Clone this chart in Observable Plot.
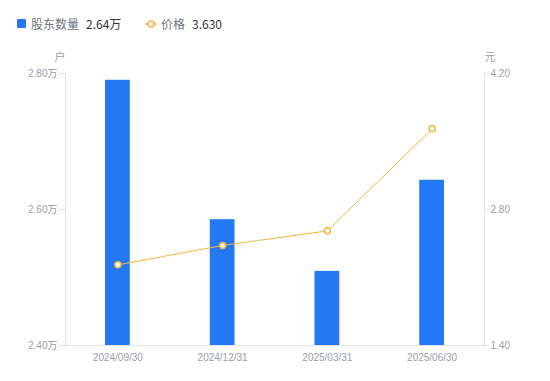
<!DOCTYPE html>
<html><head><meta charset="utf-8">
<script src="https://cdn.jsdelivr.net/npm/d3@7"></script>
<script src="https://cdn.jsdelivr.net/npm/@observablehq/plot@0.6"></script>
<style>
body{margin:0;background:#fff;font-family:"Noto Sans CJK SC","Noto Sans",sans-serif;}
#legend{height:45px;position:relative;font-size:12px;}
.item{position:absolute;top:15px;display:flex;align-items:center;white-space:nowrap;}
.name{color:#707380;}
.val{color:#333;margin-left:7px;}
</style></head><body>
<div id="legend"></div>
<div id="chart"></div>
<script>
const dates = ["2024/09/30","2024/12/31","2025/03/31","2025/06/30"];
const holders = [2.79, 2.585, 2.509, 2.643]; // 万户
const prices = [2.23, 2.43, 2.58, 3.63];     // 元
const leftTicks = [2.40, 2.60, 2.80];
const rightTicks = [1.40, 2.80, 4.20];
const seriesNames = ["股东数量", "价格"];
const legendValues = ["2.64万", "3.630"];
const units = ["户", "元"];

const blue = "#2477f5", orange = "#f7b53d", grey = "#9a9cab", axisCol = "#e3e4e8";
const yMin = leftTicks[0], yMax = leftTicks[leftTicks.length-1];
const pMin = rightTicks[0], pMax = rightTicks[rightTicks.length-1];
const toY = p => yMin + (p - pMin) * (yMax - yMin) / (pMax - pMin);
const fromY = y => pMin + (y - yMin) * (pMax - pMin) / (yMax - yMin);

const data = dates.map((d,i)=>({date:d, holders:holders[i], price:prices[i]}));

// legend
const lg = document.getElementById("legend");
lg.innerHTML = `
<div class="item" style="left:17px"><span style="display:inline-block;width:9px;height:9px;background:${blue};border-radius:1px;margin-right:5px"></span><span class="name">${seriesNames[0]}</span><span class="val">${legendValues[0]}</span></div>
<div class="item" style="left:145px"><svg width="12" height="10" style="margin-right:4px"><line x1="0" y1="5" x2="12" y2="5" stroke="${orange}" stroke-width="1.5"/><circle cx="6" cy="5" r="3" fill="#fff" stroke="${orange}" stroke-width="1.5"/></svg><span class="name">${seriesNames[1]}</span><span class="val">${legendValues[1]}</span></div>`;

const chart = Plot.plot({
  width: 550, height: 336,
  marginLeft: 65, marginRight: 66, marginTop: 28, marginBottom: 36,
  style: {fontFamily: '"Liberation Sans","Noto Sans CJK SC",sans-serif', fontSize: "10px", color: grey, background: "#fff"},
  x: {domain: dates, padding: 0, round: false, axis: null},
  y: {domain: [yMin, yMax], axis: null},
  marks: [
    Plot.frame({anchor: "left", stroke: axisCol}),
    Plot.frame({anchor: "right", stroke: axisCol}),
    Plot.frame({anchor: "bottom", stroke: axisCol}),
    Plot.barY(data, {x: "date", y1: yMin, y2: "holders", fill: blue, insetLeft: 40, insetRight: 40}),
    Plot.line(data, {x: "date", y: d => toY(d.price), stroke: orange, strokeWidth: 1}),
    Plot.dot(data, {x: "date", y: d => toY(d.price), r: 3, fill: "#fff", stroke: orange, strokeWidth: 1.5}),
    Plot.axisX({tickSize: 0, tickPadding: 8, fill: grey, label: null}),
    Plot.axisY(leftTicks, {anchor: "left", tickSize: 6, tickPadding: 2, stroke: axisCol, fill: grey, tickFormat: v => v.toFixed(2) + "万", label: null}),
    Plot.axisY(rightTicks.map(toY), {anchor: "right", tickSize: 4, tickPadding: 2, stroke: axisCol, fill: grey, tickFormat: v => fromY(v).toFixed(2), label: null}),
    Plot.text([units[0]], {text: d => d, frameAnchor: "top-left", dx: -11, dy: -20, fill: grey, fontSize: 11, fontFamily: "Noto Sans CJK SC"}),
    Plot.text([units[1]], {text: d => d, frameAnchor: "top-right", dx: 11, dy: -20, fill: grey, fontSize: 11, fontFamily: "Noto Sans CJK SC"})
  ]
});
document.getElementById("chart").appendChild(chart);
</script>
</body></html>
